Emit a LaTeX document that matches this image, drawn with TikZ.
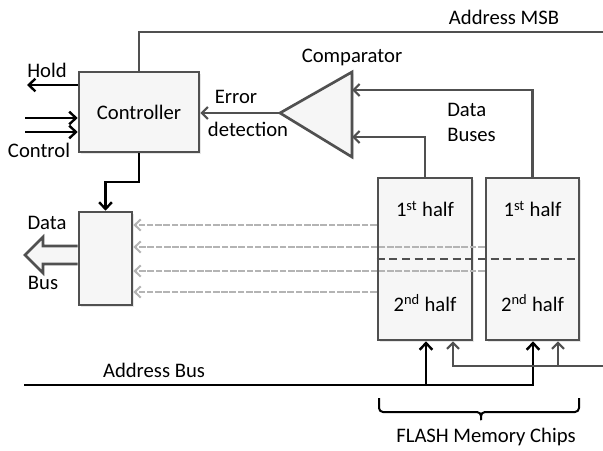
\documentclass[tikz,border=0pt]{standalone}
\usepackage{fontspec}
\setmainfont{Carlito}
\usetikzlibrary{arrows.meta,calc,shadows}
\definecolor{lineg}{HTML}{505050}
\definecolor{boxfill}{HTML}{F6F6F6}
\definecolor{dashg}{HTML}{B4B4B4}
\begin{document}
\begin{tikzpicture}[x=0.75pt,y=-0.75pt,
  font=\fontsize{15.5}{18}\selectfont,
  boxst/.style={draw=lineg, line width=2pt, fill=boxfill, drop shadow={opacity=0.2, shadow xshift=1.2pt, shadow yshift=-1.2pt}},
  gline/.style={draw=lineg, line width=2pt},
  garrow/.style={gline, -{Straight Barb[length=4.5pt,width=9pt,line width=1.6pt]}},
  bline/.style={draw=black, line width=2.2pt},
  barrow/.style={bline, -{Straight Barb[length=5pt,width=9.5pt,line width=1.8pt]}},
  darrow/.style={draw=dashg, line width=2pt, dash pattern=on 5pt off 1.2pt, -{Straight Barb[length=4.5pt,width=8.5pt,line width=1.5pt]}},
  lbl/.style={inner sep=0pt}]
\useasboundingbox (0,0) rectangle (603,450);

% boxes
\node[boxst, minimum width=90pt, minimum height=60pt] (ctrl) at (139,112) {Controller};
\node[boxst, minimum width=39.75pt, minimum height=69.75pt] (dbox) at (105.5,258.5) {};
\node[boxst, minimum width=70.5pt, minimum height=121.5pt] (chipa) at (425,259) {};
\node[boxst, minimum width=69.75pt, minimum height=121.5pt] (chipb) at (532.5,259) {};

% comparator
\coordinate (cmptip) at (280,113);
\coordinate (cmpin1) at (352,90);
\coordinate (cmpin2) at (352,137);
\draw[boxst] (cmptip) -- (352,72) -- (352,157) -- cycle;
\node[lbl] (cmplbl) at (352,57) {Comparator};

% chip contents
\draw[gline, dash pattern=on 6pt off 3.5pt] (chipa.west) -- (chipb.east);
\node[lbl] (a1) at (425,209) {1\textsuperscript{st} half};
\node[lbl] (a2) at (425,303) {2\textsuperscript{nd} half};
\node[lbl] (b1) at (532.5,209) {1\textsuperscript{st} half};
\node[lbl] (b2) at (532.5,303) {2\textsuperscript{nd} half};

% address MSB
\coordinate (msbend) at (603,32);
\draw[gline] (ctrl.north) |- (msbend);
\node[lbl] (msb) at (504,17) {Address MSB};

% Hold / Control
\coordinate (holdend) at (27,85);
\draw[barrow] (ctrl.west |- holdend) -- (holdend);
\node[lbl] (hold) at (47,70) {Hold};
\coordinate (c1) at (25,118);
\coordinate (c2) at (25,132);
\draw[barrow] (c1) -- (ctrl.west |- c1);
\draw[barrow] (c2) -- (ctrl.west |- c2);
\node[lbl] (control) at (39,150) {Control};

% error detection
\draw[garrow] (cmptip) -- (ctrl.east |- cmptip);
\node[lbl] (err1) at (236,97) {Error};
\node[lbl] (err2) at (248,129) {detection};

% data buses to comparator
\draw[garrow] (chipb.north) |- (cmpin1);
\draw[garrow] (chipa.north) |- (cmpin2);
\node[lbl, anchor=west] (db1) at (447,110) {Data};
\node[lbl, anchor=west] (db2) at (447,135) {Buses};

% controller to data box
\coordinate (bend) at (139,182);
\draw[barrow] (ctrl.south) -- (bend) -| (dbox.north);

% hollow data bus arrow
\draw[gline, fill=boxfill, line join=miter] (dbox.west |- 0,246) -- (43,246) -- (43,237) -- (25,255) -- (43,273) -- (43,264) -- (dbox.west |- 0,264);
\node[lbl] (dl1) at (47,223) {Data};
\node[lbl] (dl2) at (43,283) {Bus};

% dashed data lines
\draw[darrow] (chipa.west |- 0,225) -- (dbox.east |- 0,225);
\draw[darrow] (chipb.west |- 0,247) -- (dbox.east |- 0,247);
\draw[darrow] (chipb.west |- 0,271) -- (dbox.east |- 0,271);
\draw[darrow] (chipa.west |- 0,292) -- (dbox.east |- 0,292);

% address bus
\coordinate (abL) at (24,385);
\draw[barrow] (abL) -| ($(chipb.south)+(0.5,0)$);
\draw[barrow] ($(chipa.south |- abL)+(1,0)$) -- ($(chipa.south)+(1,0)$);
\node[lbl] (abus) at (154,370) {Address Bus};

% gray address lines
\coordinate (gR) at (603,366);
\draw[garrow] (gR) -| ($(chipa.south)+(28,0)$);
\draw[garrow] ($(chipb.south |- gR)+(25.5,0)$) -- ($(chipb.south)+(25.5,0)$);

% brace
\draw[draw=black, line width=1.5pt, rounded corners=3pt] (379,398) -- (379,412) -- (481,412) -- (481,420);
\draw[draw=black, line width=1.5pt, rounded corners=3pt] (481,414) |- (579,412) -- (579,398);
\node[lbl] (flash) at (486,437) {FLASH Memory Chips};
\end{tikzpicture}
\end{document}
